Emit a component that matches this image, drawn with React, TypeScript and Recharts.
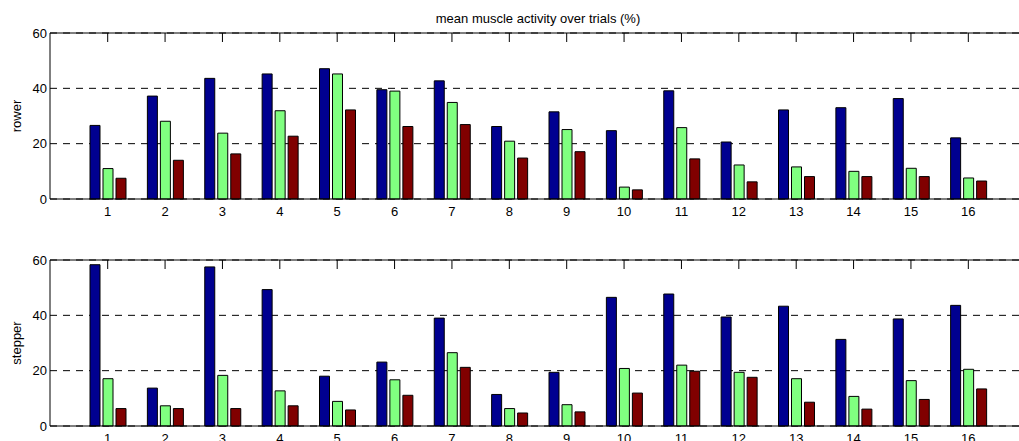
import { BarChart, Bar, XAxis, YAxis, CartesianGrid } from 'recharts'

const trials = ['1', '2', '3', '4', '5', '6', '7', '8', '9', '10', '11', '12', '13', '14', '15', '16']
const rowerA = [26.6, 37.2, 43.6, 45.2, 47.1, 39.5, 42.7, 26.2, 31.5, 24.7, 39.1, 20.6, 32.2, 33.0, 36.3, 22.1]
const rowerB = [11.0, 28.1, 23.8, 31.9, 45.2, 39.0, 34.9, 20.9, 25.1, 4.3, 25.8, 12.3, 11.6, 10.0, 11.1, 7.6]
const rowerC = [7.5, 14.0, 16.3, 22.7, 32.2, 26.2, 26.9, 14.8, 17.1, 3.3, 14.5, 6.2, 8.1, 8.1, 8.1, 6.5]
const stepperA = [58.3, 13.7, 57.5, 49.3, 18.0, 23.1, 39.0, 11.4, 19.4, 46.5, 47.7, 39.4, 43.3, 31.3, 38.7, 43.6]
const stepperB = [17.1, 7.3, 18.3, 12.7, 8.9, 16.7, 26.5, 6.3, 7.7, 20.8, 22.0, 19.4, 17.1, 10.7, 16.4, 20.5]
const stepperC = [6.3, 6.3, 6.3, 7.3, 5.8, 11.1, 21.2, 4.7, 5.1, 11.9, 19.8, 17.6, 8.6, 6.1, 9.6, 13.4]
const yTicks = [0, 20, 40, 60]
const title = 'mean muscle activity over trials (%)'

const font = { fontFamily: '"Liberation Sans", Arial, sans-serif', fontSize: 13, fill: '#000' }

function Panel({ a, b, c, name, height, top, showTitle }: {
  a: number[], b: number[], c: number[], name: string, height: number, top: number, showTitle?: boolean
}) {
  const data = trials.map((t, i) => ({ trial: t, a: a[i], b: b[i], c: c[i] }))
  const plotH = 166
  const cy = top + plotH / 2
  return (
    <BarChart width={1026} height={height} data={data} margin={{ top: top - 1, right: 0, bottom: 0, left: 0 }}
      barSize={10} barGap={3}>
      <CartesianGrid vertical={false} stroke="#000" strokeDasharray="7 6" />
      <XAxis xAxisId="top" orientation="top" dataKey="trial" height={1} tickSize={-9}
        padding={{ left: 29, right: 29 }} tick={() => <g />} tickLine={{ stroke: '#000' }}
        axisLine={{ stroke: '#000' }} interval={0} />
      <XAxis dataKey="trial" height={height - top - plotH} tickLine={false} tickSize={0} tickMargin={8}
        padding={{ left: 29, right: 29 }} axisLine={{ stroke: '#000' }} tick={font} interval={0} />
      <YAxis width={50} domain={[0, 60]} ticks={yTicks} tickLine={false} tickSize={0} tickMargin={3}
        axisLine={{ stroke: '#000' }} tick={font}
        label={{
          content: () => (
            <g>
              <text x={20.5} y={cy} textAnchor="middle" transform={`rotate(-90 20.5 ${cy})`} {...font}>{name}</text>
              {showTitle && <text x={538} y={top - 10} textAnchor="middle" {...font}>{title}</text>}
            </g>
          ),
        }} />
      <Bar dataKey="a" fill="#000090" stroke="#000" strokeWidth={1} isAnimationActive={false} />
      <Bar dataKey="b" fill="#80FF80" stroke="#000" strokeWidth={1} isAnimationActive={false} />
      <Bar dataKey="c" fill="#800000" stroke="#000" strokeWidth={1} isAnimationActive={false} />
    </BarChart>
  )
}

export default function App() {
  return (
    <div style={{ position: 'fixed', left: 0, top: 0, width: 1019, height: 441, overflow: 'hidden', background: '#fff' }}>
      <Panel a={rowerA} b={rowerB} c={rowerC} name="rower" height={226} top={33} showTitle />
      <Panel a={stepperA} b={stepperB} c={stepperC} name="stepper" height={215} top={34} />
    </div>
  )
}
